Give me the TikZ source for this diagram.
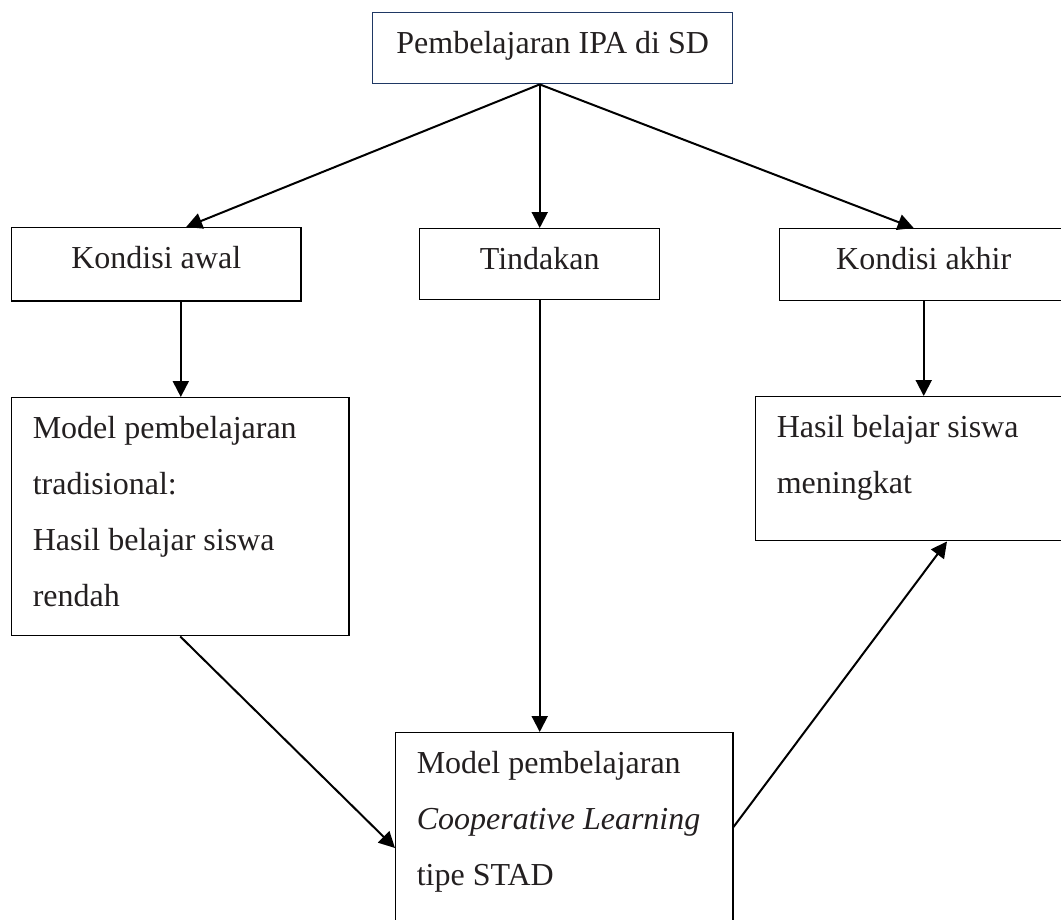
\documentclass[tikz,border=0pt]{standalone}
\usepackage{fontspec}
\setmainfont{Liberation Serif}
\usetikzlibrary{arrows.meta}
\definecolor{navyline}{HTML}{1F3864}
\definecolor{inktext}{HTML}{231F20}
% box text: width, height, lines (first baseline at strut height)
\newcommand{\boxtxt}[3]{\begin{minipage}[t][#2][t]{#1}\vspace*{0.7pt}\fontsize{12}{21}\selectfont\leftskip=7.9pt\strut#3\end{minipage}}

\begin{document}
\begin{tikzpicture}[
    x=0.375pt, y=-0.375pt,
    box/.style={draw, line width=0.55pt, inner sep=0pt, anchor=north west, text=inktext},
    link/.style={-{Triangle[length=6pt,width=6pt]}, line width=0.75pt}
  ]
    \useasboundingbox (0,0) rectangle (1061,919);

    \node[box, draw=navyline] (top) at (372,12) {\boxtxt{135pt}{26.6pt}{\centering Pembelajaran IPA di SD}};
    \node[box] (awal) at (11,227) {\boxtxt{108.4pt}{27.4pt}{\centering Kondisi awal}};
    \node[box] (tindakan) at (419,228) {\boxtxt{90pt}{26.6pt}{\centering Tindakan}};
    \node[box] (akhir) at (779,228) {\boxtxt{108pt}{27pt}{\centering Kondisi akhir}};
    \node[box] (tradisional) at (11,397) {\boxtxt{126.4pt}{89.25pt}{Model pembelajaran\\tradisional:\\Hasil belajar siswa\\rendah}};
    \node[box] (meningkat) at (755,396) {\boxtxt{120pt}{54pt}{Hasil belajar siswa\\meningkat}};
    \node[box] (stad) at (395,732) {\boxtxt{126.4pt}{90pt}{Model pembelajaran\\\textit{Cooperative Learning}\\tipe STAD}};

    \coordinate (split) at (tindakan.north |- top.south);
    \coordinate (awalout) at ([xshift=9.2pt]awal.south);

    \draw[link] (split) -- ([xshift=11.2pt]awal.north);
    \draw[link] (split) -- (tindakan.north);
    \draw[link] (split) -- ([xshift=-3.75pt]akhir.north);
    \draw[link] (awalout) -- (awalout |- tradisional.north);
    \draw[link] (tindakan.south) -- (tindakan.south |- stad.north);
    \draw[link] (akhir.south) -- (akhir.south |- meningkat.north);
    \draw[link] (tradisional.south) -- ([yshift=-43.5pt]stad.north west);
    \draw[link] ([yshift=-35.6pt]stad.north east) -- ([xshift=72pt]meningkat.south west);
  \end{tikzpicture}
\end{document}
